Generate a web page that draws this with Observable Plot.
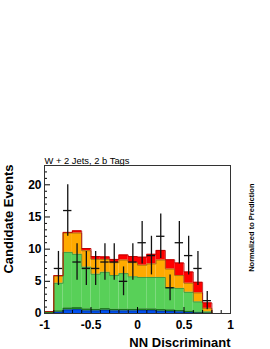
<!DOCTYPE html>
<html>
<head>
<meta charset="utf-8">
<script src="https://cdn.jsdelivr.net/npm/d3@7"></script>
<script src="https://cdn.jsdelivr.net/npm/@observablehq/plot@0.6"></script>
<style>
  html, body { margin: 0; padding: 0; background: #fff; }
  #chart svg { display: block; }
</style>
</head>
<body>
<div id="chart"></div>
<script>
// Bin centres (bin width 0.1)
const binCenters = [-0.95, -0.85, -0.75, -0.65, -0.55, -0.45, -0.35, -0.25, -0.15, -0.05,
                     0.05,  0.15,  0.25,  0.35,  0.45,  0.55,  0.65,  0.75,  0.85,  0.95];
// Stacked prediction components (per-bin contributions, bottom to top)
const compBlue    = [0,    0.2,  0.55, 0.6,  0.4,  0.4,  0.5,  0.4,  0.4,  0.4,  0.45, 0.45, 0.35, 0.3,  0.25, 0.15, 0.1,  0.05, 0, 0];
const compDkGreen = [0.3,  0.2,  0.3,  0.3,  0.3,  0.25, 0.25, 0.25, 0.25, 0.25, 0.25, 0.25, 0.25, 0.25, 0.2,  0.2,  0.1,  0.05, 0, 0];
const compGreen   = [0,    4.3,  8.65, 8.3,  6.5,  5.45, 5.65, 5.25, 5.55, 5.05, 4.9,  4.9,  5.0,  3.45, 3.45, 2.95, 1.6,  0.15, 0, 0];
const compOrange  = [0,    1.1,  3.0,  3.3,  2.55, 2.3,  2.0,  2.0,  2.1,  2.2,  1.9,  2.1,  2.7,  2.9,  2.0,  1.4,  1.4,  0.55, 0, 0];
const compRed     = [0,    0.1,  0.1,  0.35, 0.35, 0.45, 0.4,  0.5,  0.8,  0.95, 1.25, 1.5,  1.5,  1.45, 1.95, 1.75, 1.65, 0.85, 0, 0];
// Observed data
const dataX = [-0.85, -0.75, -0.65, -0.55, -0.45, -0.35, -0.25, -0.15, -0.05,
                0.05,  0.15,  0.25,  0.35,  0.45,  0.55,  0.65,  0.75];
const dataN = [7, 16, 8, 7, 7, 8, 8, 5, 8, 11, 9, 12, 4, 11, 9, 7, 2];
// Axis ticks
const xMajor = [-1, -0.5, 0, 0.5, 1];
const xMinor = [-0.9,-0.8,-0.7,-0.6,-0.4,-0.3,-0.2,-0.1,0.1,0.2,0.3,0.4,0.6,0.7,0.8,0.9];
const yMajor = [0, 5, 10, 15, 20];
const yMinor = [1,2,3,4,6,7,8,9,11,12,13,14,16,17,18,19,21,22];

const halfBin = 0.05;
const layers = [
  {name: "blue",    vals: compBlue,    fill: "#0050f0", line: "#00309a"},
  {name: "dkgreen", vals: compDkGreen, fill: "#1f8a1f", line: "#176617"},
  {name: "green",   vals: compGreen,   fill: "#58d058", line: "#3c8c3c"},
  {name: "orange",  vals: compOrange,  fill: "#ffaa00", line: "#9a6a10"},
  {name: "red",     vals: compRed,     fill: "#ff0000", line: "#b00000"}
];

// Build stacked rectangles and step outlines from the arrays
const rects = [];
const outlines = [];
const cum = binCenters.map(() => 0);
for (const L of layers) {
  const pts = [];
  binCenters.forEach((c, i) => {
    const y1 = cum[i], y2 = cum[i] + L.vals[i];
    if (L.vals[i] > 0) rects.push({x1: c - halfBin, x2: c + halfBin, y1, y2, fill: L.fill});
    cum[i] = y2;
    pts.push({x: c - halfBin, y: y2});
  });
  pts.push({x: binCenters[binCenters.length - 1] + halfBin, y: cum[cum.length - 1]});
  outlines.push({pts, stroke: L.line});
}
const points = dataX.map((x, i) => ({x, n: dataN[i], e: Math.sqrt(dataN[i])}));

const FONT = "'Liberation Sans', Arial, Helvetica, sans-serif";
const mt = 165, mb = 36, ml = 44, mr = 40, W = 270, H = 349;
const innerW = W - ml - mr, innerH = H - mt - mb;

const plot = Plot.plot({
  width: W,
  height: H,
  marginTop: mt,
  marginBottom: mb,
  marginLeft: ml,
  marginRight: mr,
  style: {fontFamily: FONT, background: "white", overflow: "visible"},
  x: {domain: [-1, 1]},
  y: {domain: [0, 23]},
  marks: [
    Plot.rect(rects, {x1: "x1", x2: "x2", y1: "y1", y2: "y2", fill: d => d.fill}),
    ...outlines.map(o => Plot.line(o.pts, {x: "x", y: "y", stroke: o.stroke, strokeWidth: 0.8, curve: "step-after"})),
    // data error bars
    Plot.ruleX(points, {x: "x", y1: d => Math.max(0, d.n - d.e), y2: d => d.n + d.e, stroke: "#111", strokeWidth: 1.3}),
    Plot.ruleY(points, {y: "n", x1: d => d.x - 0.045, x2: d => d.x + 0.045, stroke: "#111", strokeWidth: 1.3}),
    // ticks (inward)
    Plot.tickX(xMajor, {x: d => d, insetTop: innerH - 6, stroke: "#000"}),
    Plot.tickX(xMinor, {x: d => d, insetTop: innerH - 3, stroke: "#000"}),
    Plot.tickY(yMajor, {y: d => d, insetRight: innerW - 6, stroke: "#000"}),
    Plot.tickY(yMinor, {y: d => d, insetRight: innerW - 3, stroke: "#000"}),
    Plot.frame({stroke: "#333", strokeWidth: 1}),
    Plot.axisX({ticks: xMajor, tickSize: 0, tickPadding: 7, tickFormat: d => String(d),
                fontSize: 12, fontWeight: "bold", label: null}),
    Plot.axisY({ticks: yMajor, tickSize: 0, tickPadding: 3, tickFormat: d => String(d),
                fontSize: 12, fontWeight: "bold", label: null}),
    // texts
    Plot.text(["W + 2 Jets, 2 b Tags"], {frameAnchor: "top-left", text: d => d, textAnchor: "start",
               lineAnchor: "bottom", dy: -2, fontSize: 9.4, fill: "#000"}),
    Plot.text(["Candidate Events"], {frameAnchor: "top-left", text: d => d, rotate: -90, textAnchor: "end",
               lineAnchor: "middle", dx: -36, dy: -1, fontSize: 13, fontWeight: "bold", fill: "#000"}),
    Plot.text(["NN Discriminant"], {frameAnchor: "bottom-right", text: d => d, textAnchor: "end",
               lineAnchor: "middle", dy: 29, fontSize: 13, fontWeight: "bold", fill: "#000"}),
    Plot.text(["Normalized to Prediction"], {frameAnchor: "top-right", text: d => d, rotate: -90, textAnchor: "end",
               lineAnchor: "middle", dx: 21, dy: 18, fontSize: 7.5, fontWeight: "bold", fill: "#000"})
  ]
});
document.getElementById("chart").appendChild(plot);
</script>
</body>
</html>
